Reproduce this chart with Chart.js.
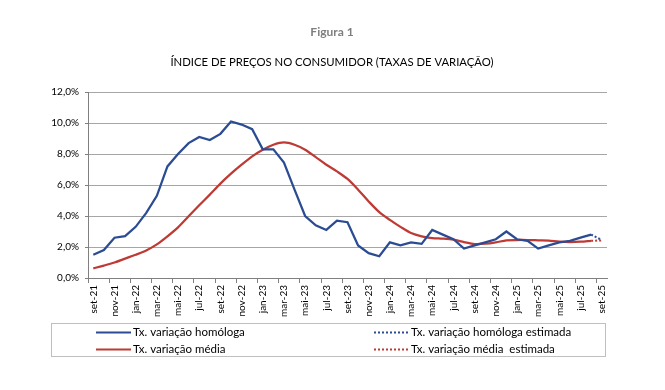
<!DOCTYPE html>
<html>
<head>
<meta charset="utf-8">
<script src="https://cdn.jsdelivr.net/npm/chart.js@4.4.0/dist/chart.umd.min.js"></script>
<style>
html,body{margin:0;padding:0;background:#fff;}
#wrap{position:relative;width:665px;height:390px;}
</style>
</head>
<body>
<div id="wrap"><canvas id="c" width="665" height="390"></canvas></div>
<script>
const categories = ['set-21','out-21','nov-21','dez-21','jan-22','fev-22','mar-22','abr-22','mai-22','jun-22','jul-22','ago-22','set-22','out-22','nov-22','dez-22','jan-23','fev-23','mar-23','abr-23','mai-23','jun-23','jul-23','ago-23','set-23','out-23','nov-23','dez-23','jan-24','fev-24','mar-24','abr-24','mai-24','jun-24','jul-24','ago-24','set-24','out-24','nov-24','dez-24','jan-25','fev-25','mar-25','abr-25','mai-25','jun-25','jul-25','ago-25','set-25'];

const homologa = [1.5,1.8,2.6,2.7,3.3,4.2,5.3,7.2,8.0,8.7,9.1,8.9,9.3,10.1,9.9,9.6,8.3,8.3,7.45,5.7,4.0,3.4,3.1,3.7,3.6,2.1,1.6,1.4,2.3,2.1,2.3,2.2,3.1,2.8,2.5,1.9,2.1,2.3,2.5,3.0,2.5,2.4,1.9,2.1,2.3,2.4,2.6,2.8,null];
const homologaEstimada = [null,null,null,null,null,null,null,null,null,null,null,null,null,null,null,null,null,null,null,null,null,null,null,null,null,null,null,null,null,null,null,null,null,null,null,null,null,null,null,null,null,null,null,null,null,null,null,2.8,2.45];
const media = [0.62,0.8,1.0,1.25,1.5,1.78,2.17,2.69,3.27,3.98,4.69,5.38,6.09,6.73,7.31,7.85,8.28,8.6,8.75,8.6,8.28,7.8,7.31,6.88,6.39,5.7,4.94,4.25,3.75,3.3,2.9,2.69,2.58,2.54,2.47,2.32,2.19,2.21,2.3,2.43,2.45,2.45,2.43,2.41,2.34,2.32,2.34,2.4,null];
const mediaEstimada = [null,null,null,null,null,null,null,null,null,null,null,null,null,null,null,null,null,null,null,null,null,null,null,null,null,null,null,null,null,null,null,null,null,null,null,null,null,null,null,null,null,null,null,null,null,null,null,2.4,2.42];

const yTicks = [0,2,4,6,8,10,12];
const seriesNames = ['Tx. variação homóloga','Tx. variação média','Tx. variação homóloga estimada','Tx. variação média  estimada'];
const figLabel = 'Figura 1';
const chartTitle = 'ÍNDICE DE PREÇOS NO CONSUMIDOR (TAXAS DE VARIAÇÃO)';

const BLUE = '#2B4C93';
const RED = '#BE3A34';
const FONT = 'Lato, "Open Sans", sans-serif';

const deco = {
  id: 'deco',
  beforeDraw(chart) {
    const ctx = chart.ctx;
    ctx.save();
    ctx.fillStyle = '#fff';
    ctx.fillRect(0, 0, chart.width, chart.height);
    ctx.restore();
  },
  afterDraw(chart) {
    const ctx = chart.ctx;
    ctx.save();
    ctx.textBaseline = 'middle';
    ctx.textAlign = 'center';
    ctx.fillStyle = '#7F7F7F';
    ctx.font = 'bold 12px ' + FONT;
    ctx.fillText(figLabel, 332, 32);
    ctx.fillStyle = '#000';
    ctx.font = '11.3px ' + FONT;
    ctx.fillText(chartTitle, 332, 62);
    ctx.strokeStyle = '#BFBFBF';
    ctx.lineWidth = 1;
    ctx.strokeRect(51.5, 323.5, 554, 33);
    const items = [
      {x: 96, y: 332.5, color: BLUE, dash: [], text: seriesNames[0]},
      {x: 96, y: 349.5, color: RED, dash: [], text: seriesNames[1]},
      {x: 374, y: 332.5, color: BLUE, dash: [2,2], text: seriesNames[2]},
      {x: 374, y: 349.5, color: RED, dash: [2,2], text: seriesNames[3]}
    ];
    ctx.textAlign = 'left';
    ctx.font = '11.5px ' + FONT;
    items.forEach(it => {
      ctx.beginPath();
      ctx.setLineDash(it.dash);
      ctx.strokeStyle = it.color;
      ctx.lineWidth = 2;
      ctx.moveTo(it.x, it.y);
      ctx.lineTo(it.x + 35, it.y);
      ctx.stroke();
      ctx.setLineDash([]);
      ctx.fillStyle = '#000';
      ctx.fillText(it.text, it.x + 37, it.y);
    });
    ctx.restore();
  }
};

new Chart(document.getElementById('c'), {
  type: 'line',
  data: {
    labels: categories,
    datasets: [
      {label: seriesNames[0], data: homologa, borderColor: BLUE, borderWidth: 2.25, pointRadius: 0, tension: 0, fill: false},
      {label: seriesNames[1], data: media, borderColor: RED, borderWidth: 2.25, pointRadius: 0, tension: 0.3, fill: false},
      {label: seriesNames[2], data: homologaEstimada, borderColor: BLUE, borderWidth: 2, borderDash: [2,2], pointRadius: 0, tension: 0, fill: false},
      {label: seriesNames[3], data: mediaEstimada, borderColor: RED, borderWidth: 2, borderDash: [2,2], pointRadius: 0, tension: 0, fill: false}
    ]
  },
  options: {
    responsive: false,
    animation: false,
    devicePixelRatio: 1,
    layout: {padding: {top: 92, right: 58, bottom: 72, left: 0}},
    plugins: {legend: {display: false}, title: {display: false}, tooltip: {enabled: false}},
    scales: {
      x: {
        offset: true,
        afterFit: s => { s.height = 40; },
        grid: {
          display: true, drawOnChartArea: false, drawTicks: true, tickLength: 5, offset: true,
          tickColor: c => (c.index !== undefined && c.index % 2 === 0) ? '#808080' : 'rgba(0,0,0,0)'
        },
        border: {display: true, color: '#808080', width: 1},
        ticks: {
          autoSkip: false, maxRotation: 90, minRotation: 90, padding: 2,
          color: '#000', font: {family: FONT, size: 10},
          callback: (v, i) => i % 2 === 0 ? categories[i] : ''
        }
      },
      y: {
        min: 0, max: 12,
        afterFit: s => { s.width = 88; },
        afterBuildTicks: s => { s.ticks = yTicks.map(v => ({value: v})); },
        grid: {color: '#A6A6A6', lineWidth: 1, tickLength: 3, tickColor: '#808080'},
        border: {display: true, color: '#808080', width: 1},
        ticks: {
          padding: 6, color: '#000', font: {family: FONT, size: 10},
          callback: v => v.toFixed(1).replace('.', ',') + '%'
        }
      }
    }
  },
  plugins: [deco]
});
</script>
</body>
</html>
